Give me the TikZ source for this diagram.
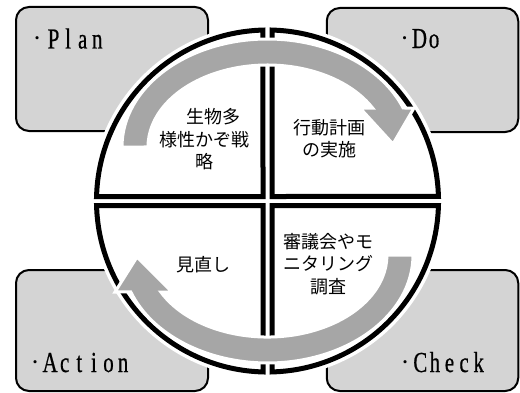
\documentclass[tikz,border=0pt]{standalone}
\usepackage{fontspec}
\newfontfamily\latf[FakeStretch=0.72,FakeBold=0.6]{Liberation Serif}
\newfontfamily\dotf{Liberation Serif}
\newfontfamily\jpf{Noto Sans CJK JP}
\definecolor{boxgray}{HTML}{D4D4D4}
\definecolor{arrowgray}{HTML}{A6A6A6}
\newcommand\cc[1]{\makebox[14.6pt][c]{#1}}
\newcommand\dotmark{\makebox[0pt][c]{\raisebox{6pt}{\dotf\fontsize{13}{13}\selectfont •}}}
\begin{document}
\begin{tikzpicture}[x=1pt,y=1pt,
  pdbox/.style={draw=black, line width=2pt, fill=boxgray, rounded corners=13pt, inner sep=0pt},
  lbl/.style={anchor=base west, inner sep=0pt, font=\latf\fontsize{29}{32}\selectfont},
  jtxt/.style={align=center, inner sep=0pt, font=\jpf\fontsize{18}{22.5}\selectfont},
  quad/.style={draw=black, fill=white, line width=5pt, line join=miter},
  arr/.style={fill=arrowgray, draw=white, line width=3pt, line join=miter}]
\useasboundingbox (0,0) rectangle (520,392);
% corner boxes
\node[pdbox, minimum width=192pt, minimum height=124pt] (planbox) at (112,323) {};
\node[pdbox, minimum width=191.5pt, minimum height=124pt] (dobox) at (422.5,322) {};
\node[pdbox, minimum width=192pt, minimum height=121pt] (actbox) at (112,61.5) {};
\node[pdbox, minimum width=191.5pt, minimum height=121pt] (chkbox) at (422.5,61.5) {};
% labels
\node[lbl] (plan) at (37,343.5) {\dotmark\hspace{9pt}\cc{P}\cc{l}\cc{a}\cc{n}};
\node[lbl] (do) at (404.5,344) {\dotmark\hspace{7.5pt}\cc{D}\cc{o}};
\node[lbl] (action) at (35,20) {\dotmark\hspace{7.6pt}\cc{A}\cc{c}\cc{t}\cc{i}\cc{o}\cc{n}};
\node[lbl] (check) at (405,20) {\dotmark\hspace{7.8pt}\cc{C}\cc{h}\cc{e}\cc{c}\cc{k}};
% circle halo
\fill[white] (267.5,191) circle[radius=177];
% quadrants
\draw[quad] (272,195.5) -- (272,361.94) arc[start angle=88.49, end angle=1.51, radius=171] -- cycle;
\draw[quad] (263,195.5) -- (96.56,195.5) arc[start angle=178.49, end angle=91.51, radius=171] -- cycle;
\draw[quad] (272,186.5) -- (438.44,186.5) arc[start angle=-1.51, end angle=-88.49, radius=171] -- cycle;
\draw[quad] (263,186.5) -- (263,20.06) arc[start angle=-91.51, end angle=-178.49, radius=171] -- cycle;
% cycle arrows
\draw[arr] (122,245) arc[start angle=180, end angle=21.17, x radius=145.5, y radius=108]
  -- (414,284) -- (393,248) -- (360,284) -- (372.6,284)
  arc[start angle=28.4, end angle=180, x radius=119.5, y radius=82] -- cycle;
\draw[arr] (413,137) arc[start angle=0, end angle=-159.97, x radius=145.5, y radius=108]
  -- (115,100) -- (137,135) -- (172,100) -- (160.8,100)
  arc[start angle=-153.2, end angle=0, x radius=119.5, y radius=82] -- cycle;
% quadrant texts
\node[jtxt] (strategy) at (204,252.5) {\hspace*{1em}生物多\\様性かぞ戦\\略};
\node[jtxt] (implement) at (329,253.3) {行動計画\\の実施};
\node[jtxt] (review) at (203.5,127.3) {見直し};
\node[jtxt] (survey) at (328,128) {審議会やモ\\ニタリング\\調査};
\end{tikzpicture}
\end{document}
